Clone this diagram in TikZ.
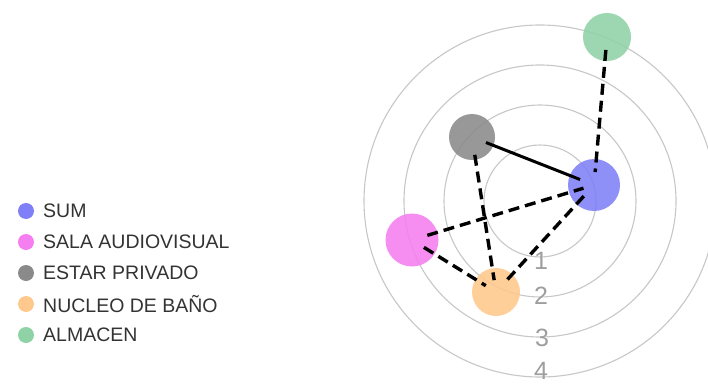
\documentclass[tikz,border=0pt]{standalone}
\usepackage{fontspec}
\setmainfont{Liberation Sans}
\begin{document}
\begin{tikzpicture}[x=1pt,y=-1pt,
  ring/.style={draw=black!22, line width=1.1pt},
  ringlabel/.style={text=black!38, font=\fontsize{25}{25}\selectfont, inner sep=0pt},
  blob/.style={circle, inner sep=0pt, minimum size=#1, fill opacity=0.88},
  legdot/.style={circle, inner sep=0pt, minimum size=16pt},
  legtext/.style={anchor=west, text=black!80, font=\fontsize{19.5}{19.5}\selectfont, inner sep=0pt},
  dashlink/.style={line width=3.4pt, dash pattern=on 11pt off 6pt, shorten <=13pt, shorten >=13pt},
  solidlink/.style={line width=3pt, shorten <=15pt, shorten >=15pt}]
\definecolor{csum}{HTML}{7F7FF7}
\definecolor{csala}{HTML}{F57EF0}
\definecolor{cestar}{HTML}{8A8A8A}
\definecolor{cnucleo}{HTML}{FFC88C}
\definecolor{calm}{HTML}{8ED2A6}
\useasboundingbox (0,0) rectangle (708,385);
% rings
\coordinate (c) at (540,201);
\foreach \r in {56,96,136,176} { \draw[ring] (c) circle (\r); }
\node[ringlabel] (l1) at (541,261) {1};
\node[ringlabel] (l2) at (541,296) {2};
\node[ringlabel] (l3) at (542,338) {3};
\node[ringlabel] (l4) at (541,371) {4};
% nodes
\node[blob=48pt, fill=calm] (alm) at (607,37) {};
\node[blob=46pt, fill=cestar] (est) at (472,137) {};
\node[blob=52pt, fill=csum] (sum) at (594,185) {};
\node[blob=53pt, fill=csala] (sala) at (412,240) {};
\node[blob=48pt, fill=cnucleo] (nuc) at (496,292) {};
% links
\draw[dashlink] (alm.center) -- (sum.center);
\draw[solidlink] (est.center) -- (sum.center);
\draw[dashlink, shorten <=18pt, shorten >=12pt] (est.center) -- (nuc.center);
\draw[dashlink, shorten <=16pt, shorten >=11pt] (sala.center) -- (sum.center);
\draw[dashlink, shorten <=14pt, shorten >=12pt] (sala.center) -- (nuc.center);
\draw[dashlink, shorten <=17pt, shorten >=13pt] (nuc.center) -- (sum.center);
% legend
\node[legdot, fill=csum] (d1) at (26,211) {};
\node[legdot, fill=csala] (d2) at (26,242) {};
\node[legdot, fill=cestar] (d3) at (26,273) {};
\node[legdot, fill=cnucleo] (d4) at (26,304) {};
\node[legdot, fill=calm] (d5) at (26,335) {};
\node[legtext] (t1) at (43,211) {SUM};
\node[legtext] (t2) at (43,242) {SALA AUDIOVISUAL};
\node[legtext] (t3) at (43,273) {ESTAR PRIVADO};
\node[legtext] (t4) at (43,304) {NUCLEO DE BAÑO};
\node[legtext] (t5) at (43,335) {ALMACEN};
\end{tikzpicture}
\end{document}
